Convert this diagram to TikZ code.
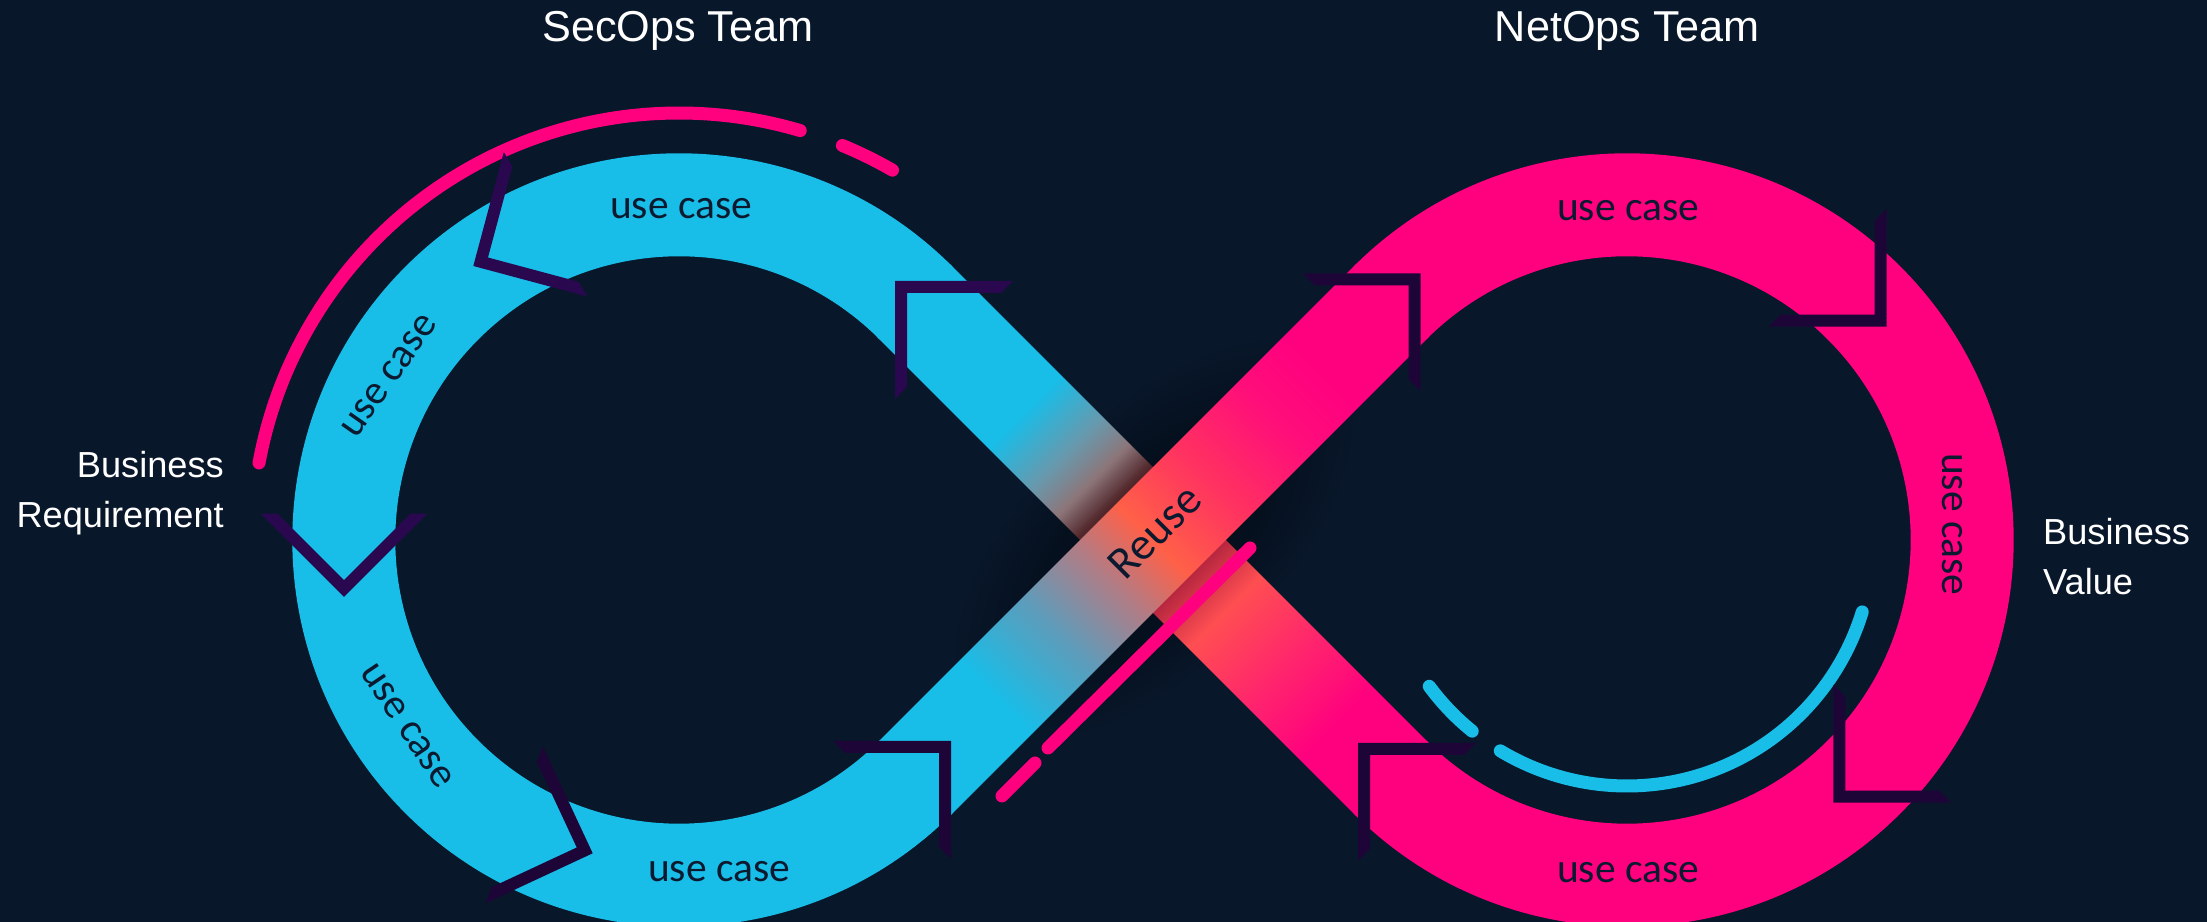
\documentclass[tikz,border=0pt]{standalone}
\usepackage{fontspec}
\setmainfont{Liberation Sans}
\newfontfamily\bandfont{Carlito}
\definecolor{bgnavy}{RGB}{8,23,42}
\definecolor{glowdark}{RGB}{2,7,16}
\definecolor{loopcyan}{RGB}{24,189,232}
\definecolor{loopmagenta}{RGB}{255,0,127}
\definecolor{chevpurple}{RGB}{42,8,80}
\definecolor{chevdark}{RGB}{30,5,56}
\definecolor{labelnavy}{RGB}{12,26,48}
% under band: cyan -> shadow -> magenta
\definecolor{ub1}{RGB}{105,152,172}
\definecolor{ub2}{RGB}{140,118,122}
\definecolor{ub3}{RGB}{82,40,44}
\definecolor{ub4}{RGB}{50,16,28}
\definecolor{ub5}{RGB}{186,40,64}
\definecolor{ub6}{RGB}{255,78,82}
\definecolor{ub7}{RGB}{255,38,108}
% top band: cyan -> orange -> magenta
\definecolor{tb1}{RGB}{95,155,185}
\definecolor{tb2}{RGB}{175,125,135}
\definecolor{tb3}{RGB}{255,96,72}
\definecolor{tb4}{RGB}{255,50,96}
\definecolor{tb5}{RGB}{255,14,122}
\pgfdeclarehorizontalshading{underband}{100bp}{color(0bp)=(loopcyan); color(36.6bp)=(loopcyan); color(41bp)=(ub1); color(43.7bp)=(ub2); color(45.9bp)=(ub3); color(50bp)=(ub4); color(53.9bp)=(ub5); color(57.5bp)=(ub6); color(63.4bp)=(ub7); color(69.4bp)=(loopmagenta); color(100bp)=(loopmagenta)}
\pgfdeclarehorizontalshading{topband}{100bp}{color(0bp)=(loopcyan); color(33.6bp)=(loopcyan); color(40.3bp)=(tb1); color(45.5bp)=(tb2); color(50bp)=(tb3); color(56bp)=(tb4); color(62.7bp)=(tb5); color(67.9bp)=(loopmagenta); color(100bp)=(loopmagenta)}

\begin{document}
\begin{tikzpicture}[line join=round, line cap=round,
	teamlabel/.style={text=white, font=\fontsize{12.3}{15}\selectfont},
	sidelabel/.style={text=white, font=\fontsize{10.3}{14.2}\selectfont, inner sep=0pt},
	usecase/.style={text=labelnavy, font=\bandfont\fontsize{11.8}{14}\selectfont, inner sep=0pt},
	pinkstroke/.style={loopmagenta, line width=1.3mm},
	cyanstroke/.style={loopcyan, line width=1.3mm}]
	\def\xmax{22.07} \def\ymin{-9.22}
	\def\rmid{3.352} \def\rin{2.837} \def\rout{3.867} \def\hw{0.515}
	\def\chl{1.18} \def\cht{0.12}
	\useasboundingbox (0,0) rectangle (\xmax,\ymin);
	\fill[bgnavy] (0,0) rectangle (\xmax,\ymin);
	%\draw[color=gray!50,dashed] (0,\ymin) grid (\xmax,0);
	\coordinate (leftc) at (6.79,-5.40);
	\coordinate (rightc) at (16.27,-5.40);
	\coordinate (cross) at (11.53,-5.40);
	% soft shadow round the crossing
	\begin{scope}[transform canvas={shift={(cross)},rotate=45}]
		\shade[inner color=glowdark, outer color=bgnavy] (0,0) ellipse (2.6 and 1.3);
	\end{scope}
	% the two loops
	\fill[loopcyan] ([shift={(leftc)}]45:\rout) arc[start angle=45,end angle=315,radius=\rout]
		-- ([shift={(leftc)}]315:\rin) arc[start angle=315,end angle=45,radius=\rin] -- cycle;
	\fill[loopmagenta] ([shift={(rightc)}]-135:\rout) arc[start angle=-135,end angle=135,radius=\rout]
		-- ([shift={(rightc)}]135:\rin) arc[start angle=135,end angle=-135,radius=\rin] -- cycle;
	% the crossing bands
	\begin{scope}[transform canvas={shift={(cross)},rotate=-45}]
		\shade[shading=underband] ({-\rmid-0.03},-\hw) rectangle ({\rmid+0.03},\hw);
	\end{scope}
	\begin{scope}[transform canvas={shift={(cross)},rotate=45}]
		\shade[shading=topband] ({-\rmid-0.03},-\hw) rectangle ({\rmid+0.03},\hw);
	\end{scope}
	% accent strokes
	\draw[pinkstroke] ([shift={(leftc)}]169.6:4.27) arc[start angle=169.6,end angle=73.5,radius=4.27];
	\draw[pinkstroke] ([shift={(leftc)}]67.5:4.27) arc[start angle=67.5,end angle=60,radius=4.27];
	\draw[pinkstroke] (12.50,-5.48) -- (10.48,-7.48) (10.35,-7.63) -- (10.02,-7.96);
	\draw[cyanstroke] ([shift={(rightc)}]216.5:2.46) arc[start angle=216.5,end angle=231,radius=2.46];
	\draw[cyanstroke] ([shift={(rightc)}]239:2.46) arc[start angle=239,end angle=343,radius=2.46];
	% turning arrows on the loops
	\foreach \x/\y/\a/\c in {3.44/-5.97/45/chevpurple, 4.733/-2.66/-15/chevpurple, 8.95/-2.81/-90/chevpurple,
		9.51/-7.41/180/chevdark, 5.927/-8.533/115/chevdark, 14.207/-2.733/180/chevdark,
		18.867/-3.267/90/chevdark, 18.333/-8.027/0/chevdark, 13.58/-7.43/-90/chevdark}
		\fill[\c, shift={(\x,\y)}, rotate=\a] (0,0) -- (\chl,0) -- ({\chl-\cht},\cht) -- (\cht,\cht) -- (\cht,{\chl-\cht}) -- (0,\chl) -- cycle;
	% labels
	\node[teamlabel] (secops) at (6.78,-0.31) {SecOps Team};
	\node[teamlabel] (netops) at (16.27,-0.31) {NetOps Team};
	\node[sidelabel, anchor=east, align=right] (bizreq) at (2.245,-4.934) {Business\\Requirement};
	\node[sidelabel, anchor=west, align=left] (bizval) at (20.425,-5.566) {Business\\Value};
	\node[usecase] (secTop) at (6.81,-2.09) {use case};
	\node[usecase, rotate=55] (secUpper) at (3.89,-3.76) {use case};
	\node[usecase, rotate=-56] (secLower) at (4.07,-7.26) {use case};
	\node[usecase] (secBottom) at (7.19,-8.72) {use case};
	\node[usecase] (netTop) at (16.28,-2.11) {use case};
	\node[usecase, rotate=-90] (netRight) at (19.52,-5.24) {use case};
	\node[usecase] (netBottom) at (16.28,-8.73) {use case};
	\node[usecase, rotate=45, font=\bandfont\fontsize{13}{15}\selectfont] (reuse) at (11.55,-5.32) {Reuse};
\end{tikzpicture}
\end{document}
